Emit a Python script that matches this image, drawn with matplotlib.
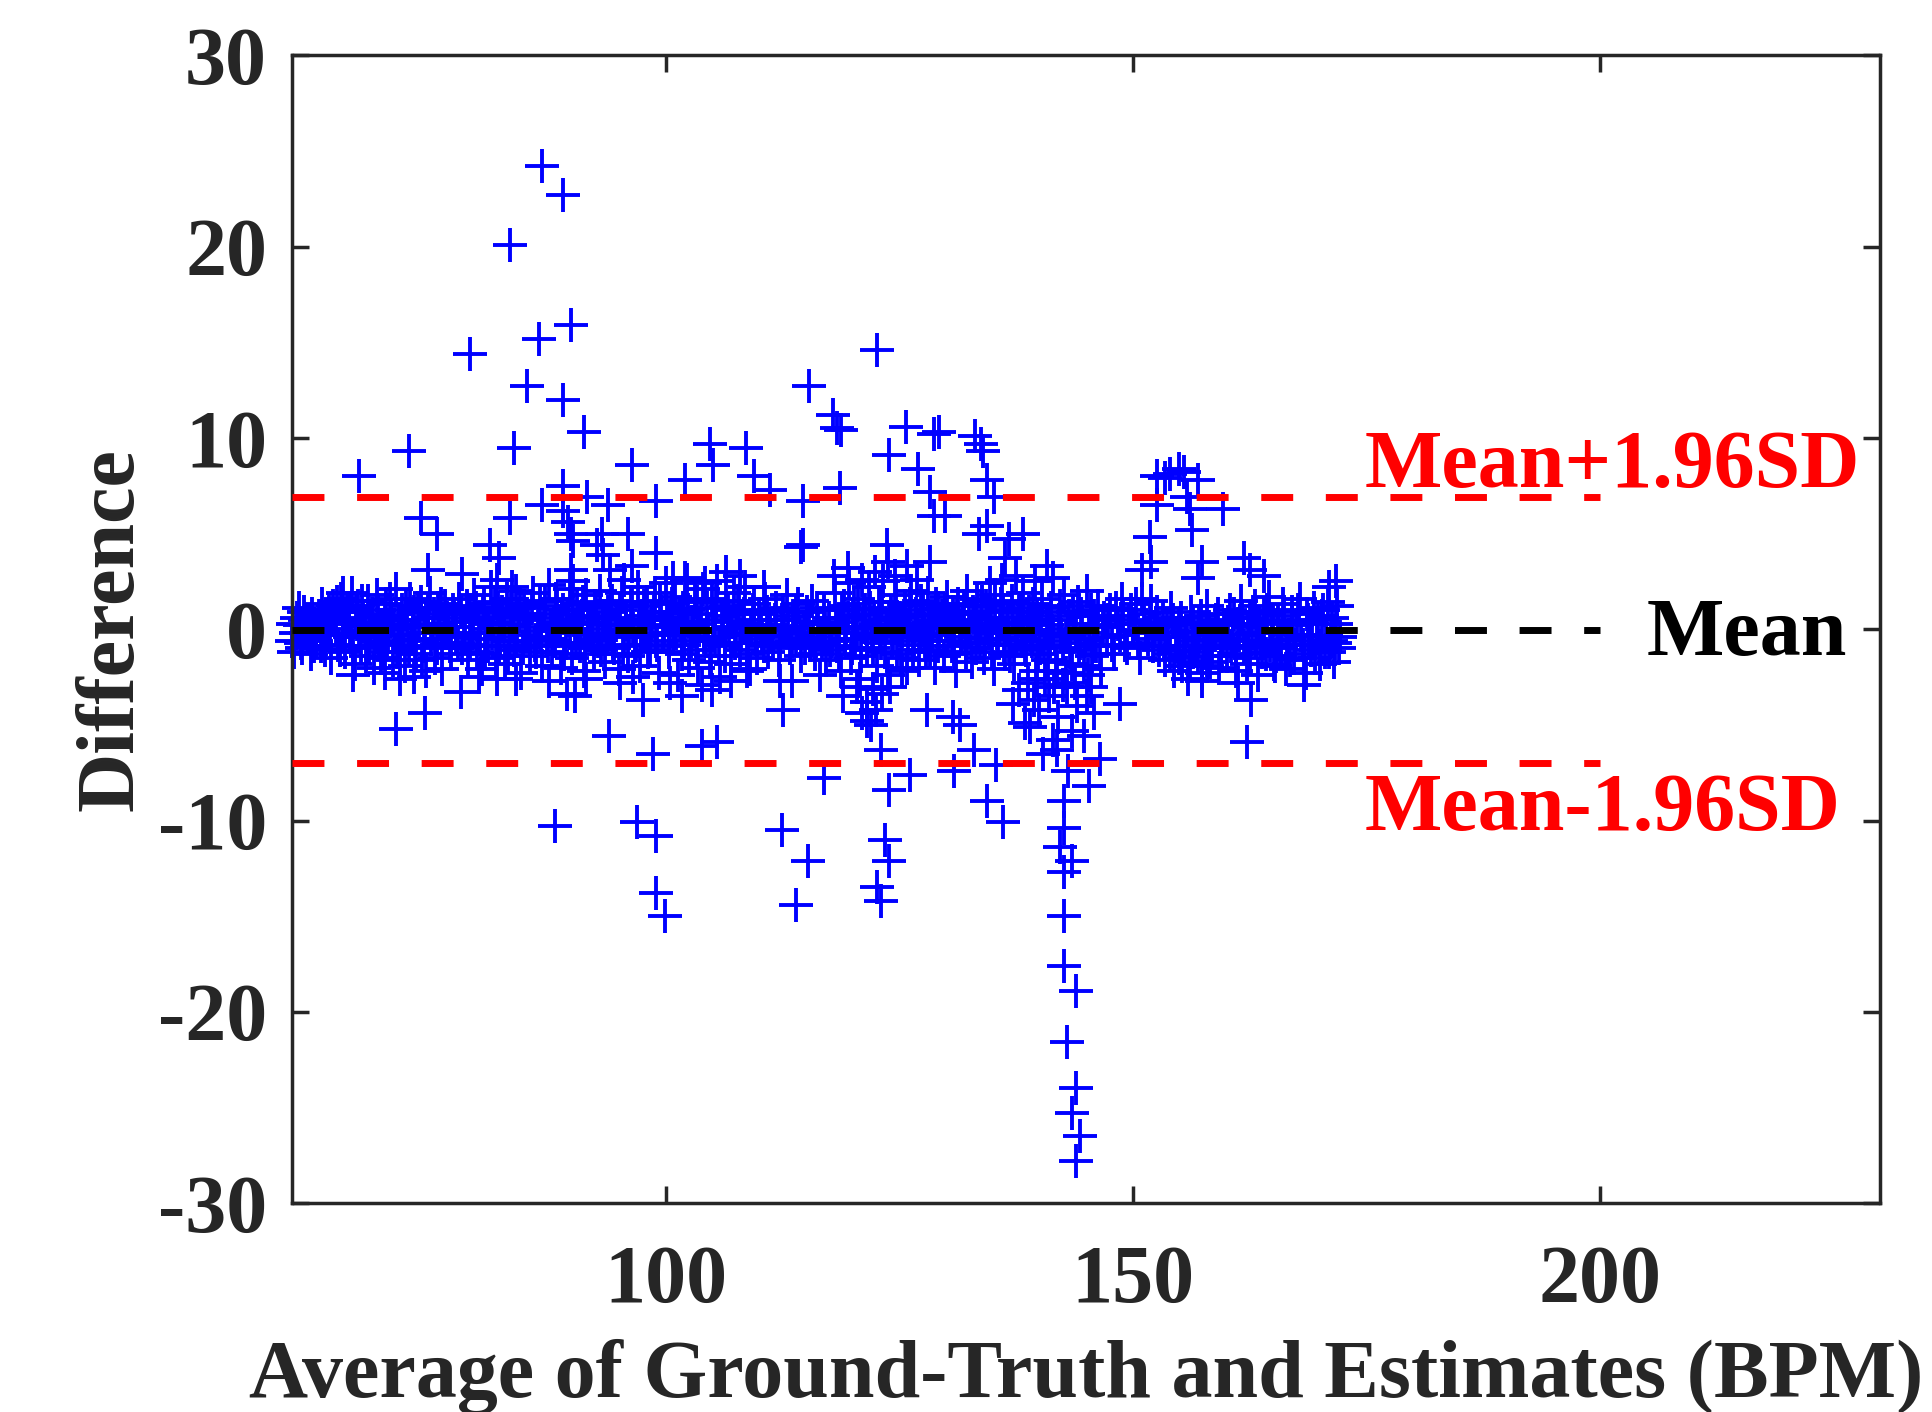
import matplotlib
matplotlib.use('Agg')
import matplotlib.pyplot as plt

plt.rcParams['font.family'] = ['Liberation Serif', 'DejaVu Serif']
plt.rcParams['font.weight'] = 'bold'
plt.rcParams['axes.unicode_minus'] = False

# Bland-Altman statistics
mean_diff = -0.05
upper_loa = 6.9
lower_loa = -7.0
line_start = 60
line_end = 200

# (average, difference) pairs of the dense band around zero
band_pts = [
    (60.0, -0.6), (60.2, -1.2), (60.5, 0.6), (60.8, 0.2), (61.0, -0.7), (61.3, 0.9), (61.5, -0.2), (61.8, 0.4),
    (62.0, -1.3), (62.3, 0.1), (62.6, -0.6), (62.9, 0.7), (63.1, -0.9), (63.4, 0.3), (63.7, -0.3), (63.9, 1.0),
    (64.2, -1.5), (64.4, 1.2), (64.7, 0.0), (64.9, -0.8), (65.2, 1.6), (65.4, 0.5), (65.7, -1.2), (65.9, 0.9),
    (66.2, -0.4), (66.4, 1.9), (66.7, -1.8), (66.9, 0.3), (67.1, 1.2), (67.4, -0.9), (67.6, 0.6), (67.9, -1.4),
    (68.1, 1.5), (68.3, -0.1), (68.6, 0.8), (68.8, -2.0), (69.1, 1.8), (69.3, -0.6), (69.6, 0.2), (69.8, -1.2),
    (70.1, 1.3), (70.3, -0.3), (70.6, 0.7), (70.8, -1.6), (71.1, 2.1), (71.3, 0.0), (71.6, -0.8), (71.8, 1.0),
    (72.1, -1.9), (72.3, 0.5), (72.6, 1.6), (72.8, -0.5), (73.1, 0.9), (73.3, -1.3), (73.6, 0.2), (73.8, 1.4),
    (74.1, -0.9), (74.3, -2.2), (74.6, 0.6), (74.8, 1.9), (75.1, -0.2), (75.3, -1.5), (75.6, 1.1), (75.8, 0.3),
    (76.1, -0.7), (76.4, 1.2), (76.7, 0.1), (77.0, -1.3), (77.3, 0.8), (77.6, -0.4), (77.9, 1.6), (78.2, -1.0),
    (78.5, 0.4), (78.8, -1.6), (79.0, 1.0),
    (79.3, -0.2), (79.5, 1.8), (79.8, -1.2), (80.0, 0.6), (80.3, -2.1), (80.5, 1.3), (80.8, 0.0), (81.0, -0.9),
    (81.3, 2.2), (81.5, 0.4), (81.8, -1.5), (82.0, 1.1), (82.3, -0.4), (82.5, 0.9), (82.8, -1.8), (83.0, 1.6),
    (83.3, -0.6), (83.5, 0.2), (83.8, -1.1), (84.0, 2.0), (84.3, 0.7), (84.5, -2.3), (84.8, 1.2), (85.0, -0.3),
    (85.3, 0.5), (85.5, -1.4), (85.8, 1.9), (86.0, -0.8), (86.3, 0.1), (86.5, 1.4), (86.8, -1.9), (87.0, 0.8),
    (87.3, -0.5), (87.5, 2.3), (87.8, -1.2), (88.0, 0.3), (88.3, 1.6), (88.5, -0.1), (88.8, -2.0), (89.0, 1.0),
    (89.3, -0.7), (89.5, 0.5), (89.8, 2.1), (90.0, -1.5), (90.3, 0.0), (90.5, 1.3), (90.8, -0.9), (91.0, 0.7),
    (91.3, -2.2), (91.5, 1.8), (91.8, -0.3), (92.0, 0.4), (92.3, -1.3), (92.5, 1.1), (92.8, -0.6), (93.0, 2.0),
    (93.3, 0.2), (93.5, -1.7), (93.8, 0.9), (94.0, -0.2), (94.3, 1.5), (94.5, -1.0), (94.8, 0.6), (95.0, -2.1),
    (95.3, 1.9), (95.5, -0.4), (95.8, 0.3), (96.0, -1.4), (96.3, 1.2), (96.5, 0.0), (96.8, -0.8), (97.0, 2.2),
    (97.3, -1.9), (97.5, 0.7), (97.8, -0.2), (98.0, 1.4), (98.3, -1.1), (98.5, 0.5), (98.8, 1.9), (99.0, -0.6),
    (99.3, -2.3), (99.5, 0.9), (99.8, 0.1),
    (100.0, 2.4), (100.3, -1.2), (100.5, 0.6), (100.8, -0.3), (101.0, 1.7), (101.3, -2.4), (101.5, 0.2), (101.8, 1.1),
    (102.0, -0.8), (102.3, 2.6), (102.5, -1.6), (102.8, 0.4), (103.0, -0.1), (103.3, 1.4), (103.5, -2.0), (103.8, 0.8),
    (104.0, 2.1), (104.3, -0.6), (104.5, 0.0), (104.8, -1.4), (105.0, 1.6), (105.3, -0.4), (105.5, 2.5), (105.8, -2.5),
    (106.0, 0.7), (106.3, -0.9), (106.5, 1.2), (106.8, 0.1), (107.0, -1.8), (107.3, 1.9), (107.5, -0.2), (107.8, 0.9),
    (108.0, -1.1), (108.3, 0.3), (108.5, 2.2), (108.8, -0.7), (109.0, -2.1), (109.3, 1.0), (109.5, 0.5), (109.8, -1.5),
    (110.0, 0.8), (110.3, -0.3), (110.6, 1.6), (110.9, -1.2), (111.2, 0.2), (111.5, -0.7), (111.8, 1.1), (112.1, -1.6),
    (112.4, 0.5), (112.7, -0.1), (113.0, 1.8), (113.3, -1.0), (113.6, 0.7), (113.9, -0.5), (114.2, 1.3), (114.5, -1.4),
    (114.8, 0.0), (115.1, 0.9), (115.4, -0.8), (115.7, 1.5), (116.0, -1.3), (116.3, 0.3), (116.6, -0.2), (116.9, 1.0),
    (117.2, -1.6), (117.5, 0.6), (117.8, -0.6),
    (118.1, 1.9), (118.3, -0.9), (118.6, 0.4), (118.8, -2.2), (119.1, 1.2), (119.3, -0.2), (119.6, 2.4), (119.8, -1.5),
    (120.1, 0.7), (120.3, -0.5), (120.6, 1.6), (120.8, -2.6), (121.1, 0.1), (121.3, 1.0), (121.6, -1.1), (121.8, 2.2),
    (122.1, -0.3), (122.3, 0.5), (122.6, -1.9), (122.8, 1.4), (123.1, -0.7), (123.3, 2.5), (123.6, 0.2), (123.8, -2.4),
    (124.1, 0.9), (124.3, -0.4), (124.6, 1.8), (124.8, -1.3), (125.1, 0.6), (125.3, -0.1), (125.6, 1.2), (125.8, -2.0),
    (126.1, 0.3), (126.3, 2.0), (126.6, -0.8), (126.8, 0.8),
    (127.1, -1.6), (127.3, 1.5), (127.6, 0.0), (127.8, -0.6), (128.1, 1.9), (128.3, -1.1), (128.6, 0.5), (128.8, -2.0),
    (129.1, 1.1), (129.3, -0.3), (129.6, 0.7), (129.8, -1.4), (130.1, 1.7), (130.3, 0.1), (130.6, -0.9), (130.8, 0.9),
    (131.1, -2.2), (131.3, 1.3), (131.6, -0.4), (131.8, 0.4), (132.1, -1.2), (132.3, 2.0), (132.6, -0.1), (132.8, -1.7),
    (133.1, 0.8), (133.3, 1.6), (133.6, -0.7), (133.8, 0.2), (134.1, -1.5), (134.3, 1.2), (134.6, -0.2), (134.8, 0.6),
    (135.1, -2.1), (135.3, 1.8), (135.6, -0.5), (135.8, 0.0), (136.1, 1.0), (136.3, -1.3), (136.6, 0.4), (136.8, -0.8),
    (137.1, 1.5), (137.3, -1.8), (137.6, 0.2), (137.8, 0.9), (138.1, -0.6), (138.3, 1.9), (138.6, -1.1), (138.8, 0.3),
    (139.1, -0.3), (139.3, 1.3), (139.6, -2.2), (139.8, 0.7),
    (140.1, -1.0), (140.3, 1.6), (140.6, -2.6), (140.8, 0.2), (141.1, -0.6), (141.3, 1.1), (141.6, -3.0), (141.8, -1.7),
    (142.1, 0.5), (142.3, -0.3), (142.6, 1.8), (142.8, -2.3), (143.1, 0.0), (143.3, -1.2), (143.6, 0.9), (143.8, -2.8),
    (144.1, 1.4), (144.3, -0.7), (144.6, 0.3), (144.8, -1.9), (145.1, 2.0), (145.3, -0.2), (145.6, -1.4), (145.8, 0.7),
    (146.1, -0.9), (146.3, 1.2), (146.6, -2.1), (146.8, 0.1),
    (147.2, -0.4), (147.6, 1.0), (148.0, -1.3), (148.4, 0.3), (148.8, 1.6), (149.2, -0.8), (149.6, 0.5), (150.0, -0.1),
    (150.4, 1.3), (150.8, -1.5), (151.2, 0.8), (151.6, -0.5), (152.0, 1.5), (152.4, 0.1), (152.8, -1.1),
    (153.2, 0.6), (153.5, -1.6), (153.8, -0.4), (154.1, 1.1), (154.4, -2.2), (154.7, -0.9), (155.0, 0.3), (155.3, -1.9),
    (155.6, -0.2), (155.9, -2.6), (156.2, 0.9), (156.5, -1.2), (156.8, -0.6), (157.1, 0.4), (157.4, -2.3), (157.7, -1.0),
    (158.0, 1.2), (158.3, -1.7), (158.6, -0.3), (158.9, 0.5), (159.2, -2.0), (159.5, -0.8), (159.8, 0.2),
    (160.1, -1.4), (160.4, 1.0), (160.7, -0.5), (161.0, -2.2), (161.3, 0.3), (161.6, 1.5), (161.9, -0.9), (162.2, -1.8),
    (162.5, 0.6), (162.8, -0.2), (163.1, 1.2), (163.4, -2.4), (163.7, -0.7), (164.0, 0.8), (164.3, -1.3), (164.6, 1.7),
    (164.9, 0.0), (165.2, -1.9), (165.5, 0.4), (165.8, -0.6), (166.1, 1.3), (166.4, -2.1), (166.7, -0.3), (167.0, 0.9),
    (167.3, -1.5), (167.6, 0.2), (167.9, 1.6), (168.2, -0.8), (168.5, -2.3), (168.8, 0.5), (169.1, -1.1), (169.4, 1.1),
    (169.7, -0.4), (170.0, -1.8), (170.3, 0.7), (170.6, -1.2), (170.9, 1.4), (171.2, -0.6), (171.5, -1.7), (171.8, 0.3),
    (172.1, -1.0),
]

# more band points, closer to zero
core_pts = [
    (60.1, 0.3), (60.4, -0.2), (60.7, 1.1), (61.1, -1.0), (61.4, 0.5), (61.7, -0.4), (62.1, 0.8), (62.4, -0.9),
    (62.8, 0.2), (63.2, 1.3), (63.5, -1.1), (63.8, 0.6), (64.1, -0.3), (64.5, 0.7), (64.8, 1.4), (65.1, -1.1),
    (65.5, -0.2), (65.8, 0.4), (66.1, 1.1), (66.5, -0.9), (66.8, 0.9), (67.2, -0.3), (67.5, 1.5), (67.8, 0.1),
    (68.2, -1.0), (68.5, 0.4), (68.9, -0.4), (69.2, 1.0), (69.5, -1.5), (69.9, 0.6), (70.2, -0.7), (70.5, 1.6),
    (70.9, 0.2), (71.2, -1.2), (71.5, 0.5), (71.9, -0.3), (72.2, 1.2), (72.5, -1.0), (72.9, 0.1), (73.2, -0.6),
    (73.5, 1.1), (73.9, -1.6), (74.2, 0.3), (74.5, 1.0), (74.9, -0.5), (75.2, 0.8), (75.5, -1.0), (75.9, 1.3),
    (76.3, -0.2), (76.6, 0.6), (76.9, -0.9), (77.2, 1.0), (77.5, 0.1), (77.8, -0.7), (78.1, 0.9), (78.4, -0.3),
    (78.7, 1.2), (79.1, -0.8), (79.4, 0.4), (79.7, 1.1), (80.1, -0.5), (80.4, 0.9), (80.7, -1.3), (81.1, 0.3),
    (81.4, -0.2), (81.7, 1.4), (82.1, -0.9), (82.4, 0.6), (82.7, 0.0), (83.1, -1.4), (83.4, 1.0), (83.7, 0.3),
    (84.1, -0.6), (84.4, 1.3), (84.7, -1.0), (85.1, 0.8), (85.4, -0.1), (85.7, 1.1), (86.1, -1.2), (86.4, 0.6),
    (86.7, -0.4), (87.1, 1.5), (87.4, -0.9), (87.7, 0.2), (88.1, -0.6), (88.4, 1.2), (88.7, 0.4), (89.1, -1.3),
    (89.4, 0.8), (89.7, -0.2), (90.1, 1.0), (90.4, -0.7), (90.7, 0.3), (91.1, 1.4), (91.4, -1.0), (91.7, 0.6),
    (92.1, -0.5), (92.4, 1.2), (92.7, 0.0), (93.1, -1.1), (93.4, 0.7), (93.7, -0.3), (94.1, 1.3), (94.4, -0.8),
    (94.7, 0.2), (95.1, 1.0), (95.4, -1.3), (95.7, 0.5), (96.1, -0.1), (96.4, 1.4), (96.7, -0.9), (97.1, 0.4),
    (97.4, -0.4), (97.7, 1.2), (98.1, -1.2), (98.4, 0.2), (98.7, 0.9), (99.1, -0.8), (99.4, 1.5), (99.7, -0.3),
    (100.1, 0.5), (100.4, -0.9), (100.7, 1.3), (101.1, -0.2), (101.4, 0.8), (101.7, -1.3), (102.1, 0.1), (102.4, 1.0),
    (102.7, -0.6), (103.1, 1.6), (103.4, -1.1), (103.7, 0.3), (104.1, -0.4), (104.4, 1.1), (104.7, -1.7), (105.1, 0.5),
    (105.4, 1.4), (105.7, -0.8), (106.1, 0.0), (106.4, -1.4), (106.7, 1.0), (107.1, 0.4), (107.4, -0.7), (107.7, 1.5),
    (108.1, -0.3), (108.4, 0.8), (108.7, -1.3), (109.1, 0.2), (109.4, 1.3), (109.7, -0.5), (110.2, 0.0), (110.5, -0.9),
    (110.8, 0.9), (111.3, -0.4), (111.7, 0.5), (112.2, -0.8), (112.6, 1.0), (113.1, 0.1), (113.5, -0.6), (114.0, 0.9),
    (114.4, -0.2), (114.9, -1.0), (115.3, 0.4), (115.8, -0.4), (116.2, 1.1), (116.7, -0.7), (117.1, 0.3), (117.6, -1.1),
    (118.2, 0.1), (118.5, -1.3), (118.9, 1.0), (119.2, -0.5), (119.5, 0.6), (119.9, -1.0), (120.2, 1.3), (120.5, 0.0),
    (120.9, -1.4), (121.2, 0.8), (121.5, -0.4), (121.9, 1.1), (122.2, -1.0), (122.5, 0.3), (122.9, -0.2), (123.2, 1.4),
    (123.5, -1.2), (123.9, 0.5), (124.2, -0.6), (124.5, 1.0), (124.9, 0.1), (125.2, -1.5), (125.5, 0.7), (125.9, -0.3),
    (126.2, 1.3), (126.5, -1.1), (126.9, 0.2), (127.2, -0.4), (127.5, 1.0), (127.9, -1.2), (128.2, 0.4), (128.5, -0.2),
    (128.9, 1.3), (129.2, -0.9), (129.5, 0.2), (129.9, 1.0), (130.2, -0.6), (130.5, 0.5), (130.9, -1.3), (131.2, 0.8),
    (131.5, -0.1), (131.9, 1.2), (132.2, -0.7), (132.5, 0.3), (132.9, 0.9), (133.2, -1.0), (133.5, 0.0), (133.9, 1.4),
    (134.2, -0.5), (134.5, 0.5), (134.9, -1.2), (135.2, 0.9), (135.5, -0.2), (135.9, 1.3), (136.2, -0.8), (136.5, 0.3),
    (136.9, -1.4), (137.2, 0.6), (137.5, -0.4), (137.9, 1.1), (138.2, 0.0), (138.5, -1.0), (138.9, 0.9), (139.2, -0.6),
    (139.5, 0.4), (139.9, -1.3),
    (140.2, 0.5), (140.5, -0.8), (140.9, -1.6), (141.2, 0.9), (141.5, -0.2), (141.9, -2.2), (142.2, 1.2), (142.5, -1.0),
    (142.9, -0.4), (143.2, 0.7), (143.5, -1.8), (143.9, -0.1), (144.2, -1.1), (144.5, 0.8), (144.9, -0.5), (145.2, -2.4),
    (145.5, 1.0), (145.9, -0.9), (146.2, 0.2), (146.5, -1.3), (146.9, 0.6),
    (147.4, 0.5), (147.8, -0.8), (148.2, 1.1), (148.6, -0.3), (149.0, 0.7), (149.4, -1.0), (149.8, 1.0), (150.2, 0.3),
    (150.6, -0.7), (151.0, 1.6), (151.4, -0.2), (151.8, 0.4), (152.2, -0.9), (152.6, 0.9), (153.0, -0.4),
    (153.4, -0.9), (153.7, 0.2), (154.0, -1.3), (154.3, 0.5), (154.6, -0.4), (154.9, -1.5), (155.2, 0.6), (155.5, -1.1),
    (155.8, -0.1), (156.1, -1.7), (156.4, 0.3), (156.7, -0.8), (157.0, -1.4), (157.3, 0.7), (157.6, -0.5), (157.9, -1.9),
    (158.2, 0.1), (158.5, -1.0), (158.8, -0.3), (159.1, 0.8), (159.4, -1.4), (159.7, -0.6),
    (160.2, 0.4), (160.5, -0.9), (160.8, 0.8), (161.1, -1.3), (161.4, -0.3), (161.7, 0.6), (162.0, -1.0), (162.3, 0.1),
    (162.6, -1.5), (162.9, 0.9), (163.2, -0.6), (163.5, 0.3), (163.8, -1.2), (164.1, -0.2), (164.4, 1.0), (164.7, -0.8),
    (165.0, 0.5), (165.3, -1.4), (165.6, 0.0), (165.9, -1.0), (166.2, 0.7), (166.5, -0.5), (166.8, -1.6), (167.1, 0.4),
    (167.4, -0.8), (167.7, 1.0), (168.0, -0.3), (168.3, -1.3), (168.6, 0.8), (168.9, -0.6), (169.2, 0.3), (169.5, -1.5),
    (169.8, 0.5), (170.1, -0.9), (170.4, 1.0), (170.7, -0.3), (171.0, -1.2), (171.3, 0.6), (171.6, -0.7), (171.9, 1.2),
    (172.2, -0.4),
]

# scattered points above the band
upper_pts = [
    (86.8, 24.2), (89.0, 22.7), (83.3, 20.1), (89.9, 15.9), (86.4, 15.2), (79.0, 14.4), (85.1, 12.7), (89.0, 12.0),
    (91.2, 10.3), (83.8, 9.5), (72.5, 9.3), (67.2, 8.0), (96.4, 8.6), (104.7, 9.7), (108.6, 9.5), (105.1, 8.6),
    (102.1, 7.8), (109.5, 8.0), (111.2, 7.3), (89.0, 7.5), (91.6, 6.9), (86.8, 6.5), (89.0, 6.2), (93.8, 6.5),
    (99.0, 6.7), (73.8, 5.8), (75.5, 5.0), (83.3, 5.8), (89.9, 5.0), (93.2, 5.0), (96.0, 5.0), (81.2, 4.4),
    (82.1, 3.7), (99.0, 4.0), (90.1, 4.6), (92.6, 4.4), (93.3, 3.9), (74.6, 3.1), (78.2, 2.9), (81.9, 2.6),
    (83.5, 2.2), (89.9, 3.1), (90.1, 2.5), (94.0, 3.1), (96.4, 3.3), (95.5, 2.6), (65.5, 1.9), (89.5, 5.6),
    (100.8, 2.7), (102.1, 2.7), (104.2, 2.4), (106.5, 3.0), (108.0, 2.8), (110.5, 2.2),
    (115.3, 12.7), (117.9, 11.2), (118.3, 10.5), (118.8, 10.4), (125.7, 10.6), (122.6, 14.6), (128.7, 10.2),
    (129.3, 10.3), (133.1, 10.1), (133.7, 9.7), (123.9, 9.1), (127.0, 8.4), (134.0, 9.3), (134.4, 7.8),
    (118.7, 7.4), (114.7, 6.7), (128.3, 7.2), (128.7, 5.9), (129.9, 5.9), (133.5, 5.0), (134.4, 5.4),
    (114.5, 4.3), (114.7, 4.4), (123.7, 4.4), (123.8, 3.5), (128.3, 3.5), (134.7, 2.4),
    (118.0, 2.8), (119.5, 3.2), (121.0, 2.6), (122.4, 3.0), (124.5, 2.8), (125.8, 3.3), (126.9, 2.6),
    (154.9, 8.4), (152.6, 8.0), (157.0, 7.8), (154.0, 8.1), (153.5, 7.9), (155.5, 8.2), (155.8, 6.9), (152.6, 6.5),
    (159.7, 6.3), (156.1, 6.3), (156.3, 5.2), (151.8, 4.8), (138.3, 5.0), (136.7, 4.7), (135.1, 6.9),
    (152.0, 3.5), (151.0, 3.1), (157.4, 3.5), (157.0, 2.7), (161.9, 3.7), (162.6, 3.1), (164.0, 2.8),
    (171.0, 2.2), (171.8, 2.5), (140.8, 3.3), (136.3, 3.7), (136.0, 2.6), (137.5, 2.8), (139.5, 2.5), (141.5, 2.7),
]

# scattered points below the band
lower_pts = [
    (71.1, -5.2), (74.2, -4.4), (78.1, -3.3), (71.6, -2.6), (93.9, -5.6), (97.6, -3.7), (95.1, -2.8), (89.4, -3.4),
    (90.3, -3.5), (81.9, -2.6), (88.2, -10.3), (96.9, -10.1), (99.0, -10.8), (99.0, -13.8), (99.9, -15.0),
    (98.6, -6.5), (103.9, -6.1), (105.5, -5.9), (101.7, -3.5), (103.9, -2.9), (108.7, -2.2), (112.5, -10.5),
    (113.9, -14.4), (112.6, -4.2), (112.2, -2.7), (115.2, -12.1),
    (116.9, -7.8), (123.0, -6.3), (123.9, -8.4), (126.1, -7.6), (130.9, -7.4), (134.4, -9.0), (123.5, -11.0),
    (128.0, -4.2), (130.8, -4.6), (131.5, -5.0), (133.0, -6.3), (121.0, -4.4), (121.5, -4.8), (122.2, -3.1),
    (119.0, -3.5), (116.5, -2.4), (113.5, -2.7), (125.3, -2.2), (121.5, -3.8), (122.5, -4.2), (123.2, -3.4),
    (120.5, -3.0), (122.0, -5.0), (124.0, -3.0),
    (123.9, -12.1), (122.6, -13.5), (123.0, -14.2), (136.1, -10.1), (142.6, -10.4), (142.2, -11.4),
    (143.5, -12.1), (142.6, -12.7), (142.6, -15.0), (142.6, -17.6), (143.9, -18.9), (143.0, -21.6),
    (143.9, -24.0), (143.5, -25.3), (144.4, -26.5), (143.9, -27.8), (142.6, -9.0),
    (162.2, -5.9), (162.7, -3.7), (168.3, -2.9), (143.1, -7.4), (145.3, -8.2), (146.5, -6.8), (140.4, -6.5),
    (135.4, -7.1), (138.5, -4.9), (143.5, -5.3), (145.8, -4.4), (148.6, -3.9), (145.1, -3.5), (139.4, -3.7),
    (137.2, -3.9), (139.0, -5.1), (141.9, -6.3), (157.4, -2.7), (161.3, -2.8), (165.1, -1.8),
    (137.8, -3.2), (138.8, -2.8), (140.0, -4.2), (141.0, -3.5), (142.0, -4.6), (143.0, -3.0), (144.0, -4.0),
    (144.8, -5.6), (141.5, -5.8), (139.8, -2.6), (142.5, -2.9), (145.5, -3.0),
    (66.5, -2.4), (70.0, -2.3), (73.0, -2.5), (76.0, -2.1), (80.0, -2.5), (84.0, -2.6), (87.5, -2.7),
    (91.5, -2.6), (96.5, -2.5), (100.5, -2.8), (105.0, -3.2), (107.0, -2.7),
]

x_ticks = [100, 150, 200]
y_ticks = [-30, -20, -10, 0, 10, 20, 30]
x_label = 'Average of Ground-Truth and Estimates (BPM)'
y_label = 'Difference'

all_pts = band_pts + core_pts + upper_pts + lower_pts
avg = [p[0] for p in all_pts]
diff = [p[1] for p in all_pts]

axis_col = '#262626'
fs = 59
fig = plt.figure(figsize=(19.33, 14.12), dpi=100)
ax = fig.add_axes([0.1511, 0.1480, 0.8215, 0.8127])

ax.plot(avg, diff, '+', color='blue', ms=25, mew=2.8, clip_on=False, zorder=2)

dash = (0, (4.6, 4.7))
ax.plot([line_start, line_end], [upper_loa, upper_loa], color='red', lw=5, linestyle=dash, zorder=3)
ax.plot([line_start, line_end], [lower_loa, lower_loa], color='red', lw=5, linestyle=dash, zorder=3)
ax.plot([line_start, line_end], [mean_diff, mean_diff], color='black', lw=5, linestyle=dash, zorder=3)

ax.text(174.8, 7.45, 'Mean+1.96SD', color='red', fontsize=fs, fontweight='bold', ha='left', va='baseline')
ax.text(205.0, -1.34, 'Mean', color='black', fontsize=fs, fontweight='bold', ha='left', va='baseline')
ax.text(174.8, -10.5, 'Mean-1.96SD', color='red', fontsize=fs, fontweight='bold', ha='left', va='baseline')

ax.set_xlim(60, 230)
ax.set_ylim(-30, 30)
ax.set_xticks(x_ticks)
ax.set_yticks(y_ticks)

for s in ax.spines.values():
    s.set_linewidth(2.5)
    s.set_color(axis_col)
ax.tick_params(direction='in', length=12.5, width=2.5, top=True, right=True,
               labelsize=fs, colors=axis_col)
ax.tick_params(axis='x', pad=30)
ax.tick_params(axis='y', pad=18)

ax.set_xlabel(x_label, fontsize=fs, fontweight='bold', color=axis_col, labelpad=14)
ax.set_ylabel(y_label, fontsize=fs, fontweight='bold', color=axis_col, labelpad=5)

fig.savefig('out.png', dpi=100)
